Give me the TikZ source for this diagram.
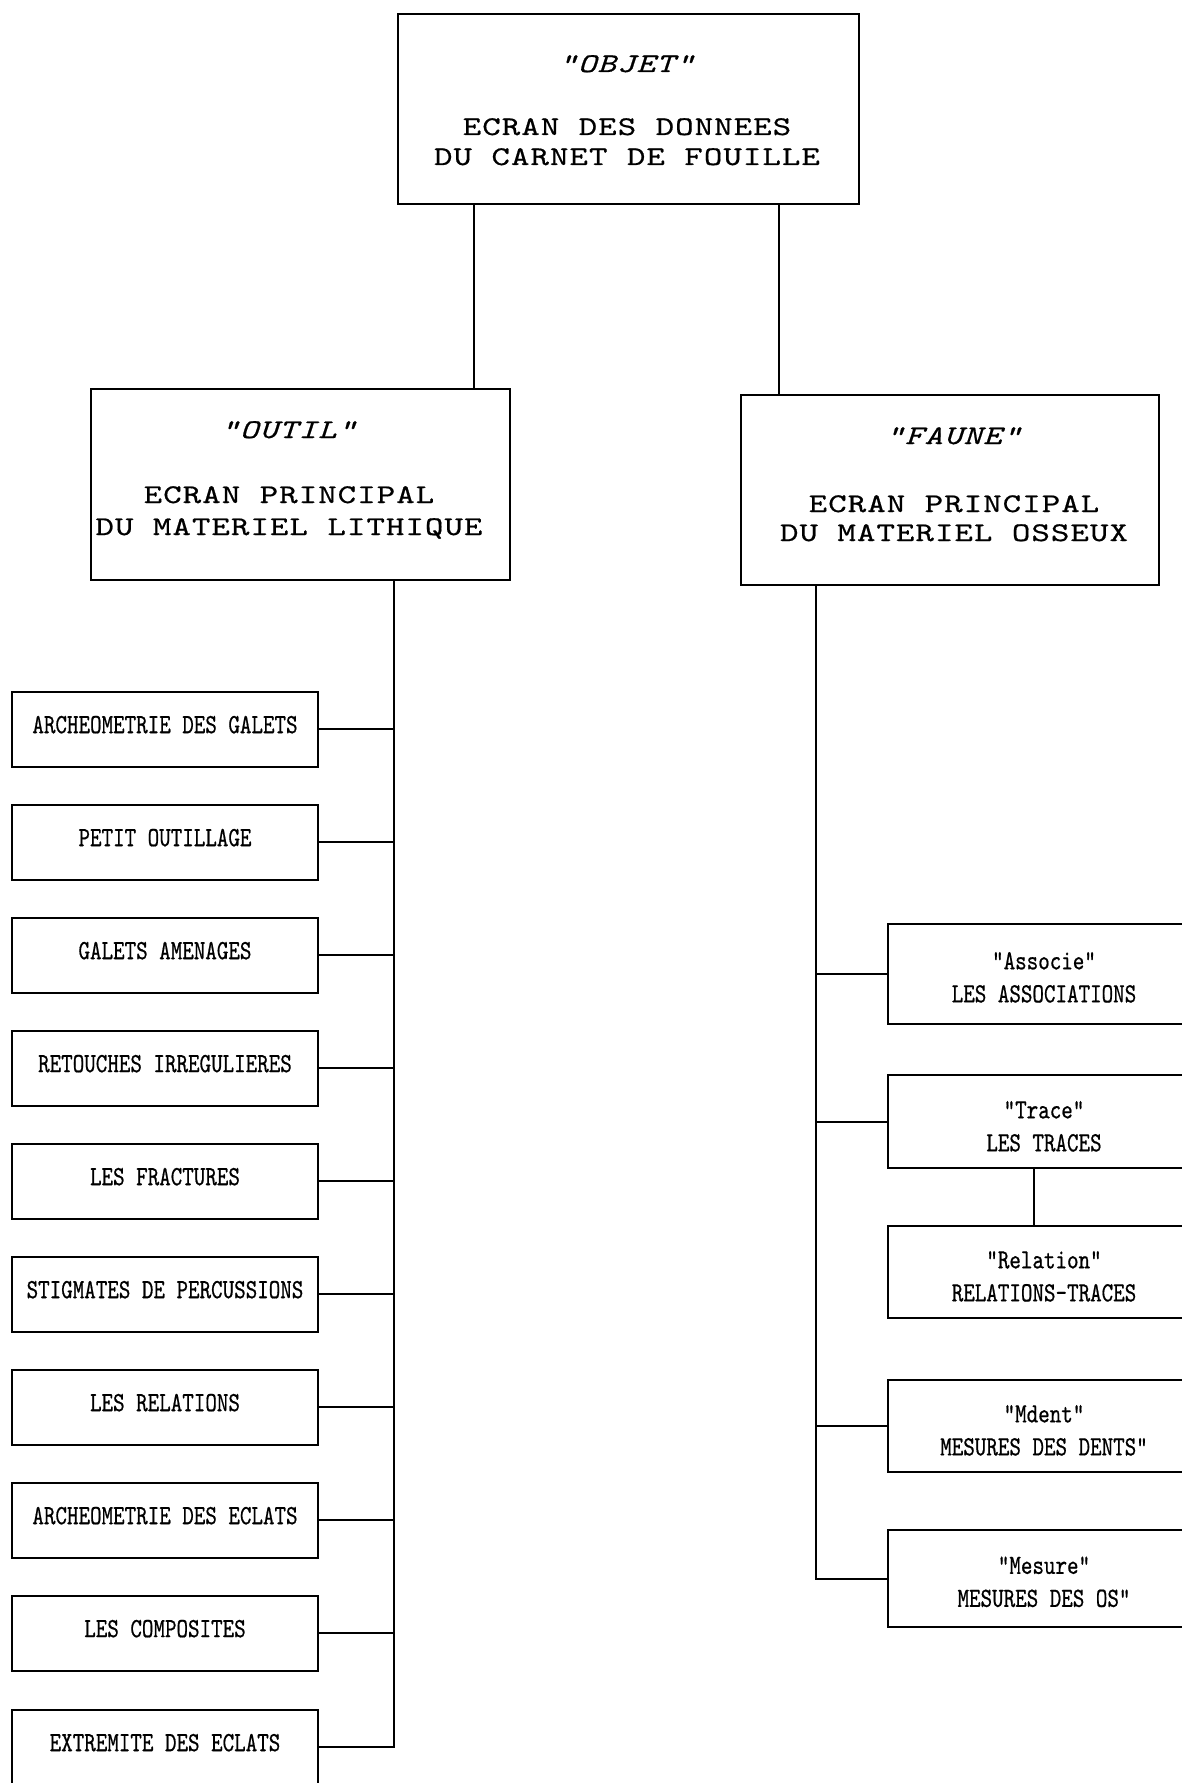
\documentclass[tikz,border=0pt]{standalone}
\usepackage{fontspec}
\newfontfamily\twfont[Extension=.otf,UprightFont=*-regular,ItalicFont=*-italic,FakeStretch=1.3,LetterSpace=4,FakeBold=0.6]{lmmono10}
\newfontfamily\smfont[Extension=.otf,UprightFont=*-regular,FakeStretch=0.79,FakeBold=0.6]{lmmono10}
\begin{document}
\begin{tikzpicture}[x=1pt,y=-1pt,
  box/.style={draw=black,line width=2pt,rectangle,inner sep=0pt},
  conn/.style={draw=black,line width=2pt},
  toptext/.style={font=\twfont\fontsize{27}{30}\selectfont,align=center,inner sep=0pt,anchor=north},
  leaf/.style={box,minimum width=306pt,minimum height=75pt,text depth=9pt,font=\smfont\fontsize{27.8}{33}\selectfont},
  rleaf/.style={box,minimum width=312pt,font=\smfont\fontsize{27.8}{33}\selectfont,align=center}]
\fill[white] (0,0) rectangle (1182,1783);
\useasboundingbox (0,0) rectangle (1182,1783);

\coordinate (xa) at (474,0);
\coordinate (xb) at (779,0);
\coordinate (lx) at (394,0);
\coordinate (rx) at (816,0);
\coordinate (tx) at (1034,0);

% top level
\node[box,minimum width=461pt,minimum height=190pt] (objet) at (628.5,109) {};
\node[toptext] (objett) at (627,55) {\textit{"OBJET"}\\[33pt]ECRAN DES DONNEES\\DU CARNET DE FOUILLE};

\node[box,minimum width=419pt,minimum height=191pt] (outil) at (300.5,484.5) {};
\node[toptext] (outilt) at (289,421) {\textit{"OUTIL"}\\[35pt]ECRAN PRINCIPAL\\[2pt]DU MATERIEL LITHIQUE};

\node[box,minimum width=418pt,minimum height=190pt] (faune) at (950,490) {};
\node[toptext] (faunet) at (954,427) {\textit{"FAUNE"}\\[38pt]ECRAN PRINCIPAL\\[-1pt]DU MATERIEL OSSEUX};

% left leaves
\foreach \i/\t in {1/ARCHEOMETRIE DES GALETS,2/PETIT OUTILLAGE,3/GALETS AMENAGES,4/RETOUCHES IRREGULIERES,5/LES FRACTURES,6/STIGMATES DE PERCUSSIONS,7/LES RELATIONS,8/ARCHEOMETRIE DES ECLATS,9/LES COMPOSITES}
  \node[leaf] (l\i) at (165,{729+(\i-1)*113}) {\t};
\node[leaf] (l10) at (165,1747) {EXTREMITE DES ECLATS};

% right leaves
\node[rleaf,minimum height=100pt] (r1) at (1044,974) {\rule{0pt}{24pt}"Associe"\\LES ASSOCIATIONS};
\node[rleaf,minimum height=93pt] (r2) at (1044,1121.5) {\rule{0pt}{27pt}"Trace"\\LES TRACES};
\node[rleaf,minimum height=92pt] (r3) at (1044,1272) {\rule{0pt}{26pt}"Relation"\\RELATIONS-TRACES};
\node[rleaf,minimum height=92pt] (r4) at (1044,1426) {\rule{0pt}{26pt}"Mdent"\\MESURES DES DENTS"};
\node[rleaf,minimum height=97pt] (r5) at (1044,1578.5) {\rule{0pt}{24pt}"Mesure"\\MESURES DES OS"};

% connectors
\draw[conn] (objet.south -| xa) -- (outil.north -| xa);
\draw[conn] (objet.south -| xb) -- (faune.north -| xb);
\draw[conn] (outil.south -| lx) |- (l10.east);
\foreach \i in {1,...,9}
  \draw[conn] (l\i.east) -- (l\i.east -| lx);
\draw[conn] (faune.south -| rx) |- (r5.west);
\foreach \i in {1,2,4}
  \draw[conn] (r\i.west) -- (r\i.west -| rx);
\draw[conn] (r2.south -| tx) -- (r3.north -| tx);
\end{tikzpicture}
\end{document}
